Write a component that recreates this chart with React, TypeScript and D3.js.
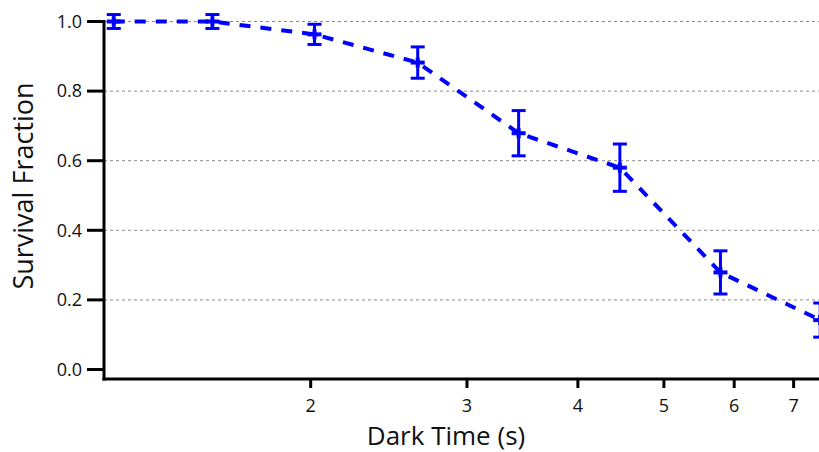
import React from "react";
import * as d3 from "d3";

const darkTimes = [1.2, 1.55, 2.02, 2.64, 3.43, 4.46, 5.79, 7.5];
const survival = [1.0, 1.0, 0.963, 0.882, 0.679, 0.58, 0.279, 0.142];
const errors = [0.02, 0.02, 0.029, 0.045, 0.065, 0.068, 0.062, 0.049];
const xTickValues = [2, 3, 4, 5, 6, 7];
const yTickValues = [0, 0.2, 0.4, 0.6, 0.8, 1.0];
const xTitle = "Dark Time (s)";
const yTitle = "Survival Fraction";

const W = 819;
const H = 452;
const FONT = "'Open Sans', 'Noto Sans', sans-serif";
const BLUE = "#0000ff";

export default function App() {
  const x = d3.scaleLog().domain([1.17, 7.55]).range([104, 104 + 385.5 * Math.log(7.55 / 1.17)]);
  const y = d3.scaleLinear().domain([0, 1]).range([369.5, 21.5]);
  const axisY = 379;
  const axisX = 104;

  const pts = darkTimes.map((t, i) => [x(t), y(survival[i])] as [number, number]);
  const line = d3.line().curve(d3.curveLinear)(pts) || "";

  return (
    <svg
      width={W}
      height={H}
      style={{ position: "absolute", left: 0, top: 0, background: "#fff" }}
      fontFamily={FONT}
    >
      {/* gridlines */}
      {yTickValues.filter((v) => v > 0).map((v) => (
        <line
          key={"g" + v}
          x1={axisX}
          x2={W}
          y1={y(v)}
          y2={y(v)}
          stroke="#8a8a8a"
          strokeWidth={1}
          strokeDasharray="3,3"
        />
      ))}

      {/* y axis */}
      <line x1={axisX} x2={axisX} y1={20} y2={axisY + 1.5} stroke="#000" strokeWidth={3} />
      {yTickValues.map((v) => (
        <g key={"y" + v}>
          <line x1={87} x2={axisX} y1={y(v)} y2={y(v)} stroke="#000" strokeWidth={3} />
          <text
            x={82}
            y={y(v)}
            dy="0.35em"
            textAnchor="end"
            fontSize={18}
            fill="#111"
          >
            {v.toFixed(1)}
          </text>
        </g>
      ))}

      {/* x axis */}
      <line x1={axisX - 1.5} x2={W} y1={axisY} y2={axisY} stroke="#000" strokeWidth={3} />
      {xTickValues.map((v) => (
        <g key={"x" + v}>
          <line x1={x(v)} x2={x(v)} y1={axisY} y2={axisY + 9} stroke="#000" strokeWidth={3} />
          <text x={x(v)} y={412} textAnchor="middle" fontSize={18} fill="#111">
            {v}
          </text>
        </g>
      ))}

      {/* titles */}
      <text x={446} y={445} textAnchor="middle" fontSize={26} fill="#111">
        {xTitle}
      </text>
      <text
        transform={`translate(${33},${186}) rotate(-90)`}
        textAnchor="middle"
        fontSize={27}
        fill="#111"
      >
        {yTitle}
      </text>

      {/* line */}
      <path d={line} fill="none" stroke={BLUE} strokeWidth={4} strokeDasharray="11,10" />

      {/* error bars and markers */}
      {darkTimes.map((t, i) => {
        const cx = x(t);
        const cy = y(survival[i]);
        const top = y(survival[i] + errors[i]);
        const bot = y(survival[i] - errors[i]);
        return (
          <g key={"p" + i} stroke={BLUE}>
            <line x1={cx} x2={cx} y1={top} y2={bot} strokeWidth={3} />
            <line x1={cx - 7} x2={cx + 7} y1={top} y2={top} strokeWidth={3} />
            <line x1={cx - 7} x2={cx + 7} y1={bot} y2={bot} strokeWidth={3} />
            <line x1={cx - 7} x2={cx + 7} y1={cy} y2={cy} strokeWidth={4} />
            <line x1={cx} x2={cx} y1={cy - 5} y2={cy + 5} strokeWidth={4} />
          </g>
        );
      })}
    </svg>
  );
}
